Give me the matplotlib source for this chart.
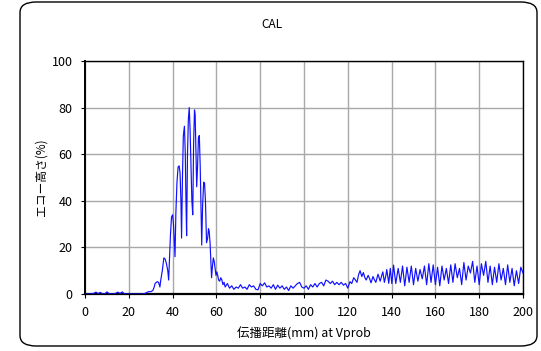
import matplotlib
matplotlib.use("Agg")
import matplotlib.pyplot as plt
from matplotlib.patches import FancyBboxPatch

plt.rcParams['font.family'] = ['Noto Sans CJK JP', 'DejaVu Sans']

# ---- data ----
x_pre = [0, 1, 2, 3, 4, 5, 6, 7, 8, 9, 10, 11, 12, 13, 14, 15, 16, 17, 18, 19,
         20, 21, 22, 23, 24, 25, 26, 27, 28]
y_pre = [0, 0, 0, 0, 0.3, 0.8, 0.2, 0.7, 0, 0, 0.9, 0.2, 0, 0, 0.3, 0.8, 0.2, 0.9, 0.1, 0,
         0, 0, 0, 0, 0, 0, 0, 0.2, 0.5]

x_peak = [28.5, 29, 30, 31, 31.6, 32, 33, 33.6, 34.2, 34.6, 35.3, 36, 36.6, 37.2, 37.8, 38.2,
          38.6, 39, 39.5, 40, 40.4, 40.8, 41.1, 41.5, 42, 42.5, 43, 43.4, 43.8, 44.1, 44.5,
          44.9, 45.4, 45.8, 46.1, 46.4, 46.8, 47.2, 47.6, 48, 48.4, 48.8, 49.2, 49.6, 50,
          50.3, 50.7, 51, 51.4, 51.8, 52.2, 52.6, 53, 53.3, 53.7, 54.2, 54.6, 55, 55.5, 56,
          56.4, 56.7, 57.1, 57.5, 57.8, 58.2, 58.6, 59, 59.4, 59.8, 60.2, 60.6, 61, 61.5,
          62, 62.5, 63, 63.5]
y_peak = [0.8, 1.0, 1.0, 1.5, 3, 4.5, 5.3, 5, 3, 6, 10, 15.5, 15, 13, 10, 6,
          15, 25, 33, 34, 30, 22, 16, 35, 48, 54.5, 55, 52, 40, 24, 50,
          68, 72, 60, 40, 25, 60, 75, 80, 70, 55, 40, 34, 65, 79,
          77, 60, 46, 55, 67, 68, 55, 35, 21, 38, 48, 47.5, 40, 22, 24,
          28, 27, 22, 14, 7, 12, 15.5, 14, 11, 8, 9.5, 8, 6, 5.5,
          7, 6, 4, 5]

x_mid = [64, 65, 66, 67, 68, 69, 70, 71, 72, 73, 74, 75, 76, 77, 78, 79, 80, 81, 82, 83,
         84, 85, 86, 87, 88, 89, 90, 91, 92, 93, 94, 95, 96, 97, 98, 99, 100, 101, 102,
         103, 104, 105, 106, 107, 108, 109, 110, 111, 112, 113, 114, 115, 116, 117, 118,
         119, 120]
y_mid = [3, 4.5, 2.5, 3.5, 2, 3, 2.5, 4, 2.5, 3, 2, 4, 3, 3.5, 2, 1.8, 4.5, 3.5, 4.8, 3,
         3.5, 2.5, 4, 2, 3.8, 2.5, 3.5, 2, 3, 1.5, 3.5, 2.5, 3.5, 4.5, 5, 3, 2.5, 3.5, 2,
         4, 3, 4.5, 3, 4.5, 5, 3.5, 6, 5.5, 4.5, 5.5, 4, 5, 4, 5, 3.8,
         4.5, 2.5]

x_rise = [121, 121.8, 122.7, 123.5, 124.2, 124.9, 125.6, 126.4, 127.1, 127.8, 128.4, 129.3,
          130, 130.6, 131.5, 132.2, 132.8, 133.8, 134.8, 135.5, 136, 136.7, 137.4, 137.8,
          138.7, 139.4, 140.1]
y_rise = [5.3, 4.5, 7, 6, 5, 8.2, 10, 7.5, 9.2, 7, 6, 8,
          6.5, 4.8, 7.5, 6, 5, 8.5, 5.5, 8, 9.5, 5, 8, 10.5,
          4.6, 11, 4.5]

x_tail = [140.9, 141.9, 143, 144, 145, 146, 147, 148, 149, 150, 151, 152, 153, 154, 155,
          156, 157, 158, 159, 160, 161, 162, 163, 164, 165, 166, 167, 168, 169, 170, 171,
          172, 173, 174, 175, 176, 177, 178, 179, 180, 181, 182, 183, 184, 185, 186, 187,
          188, 189, 190, 191, 192, 193, 194, 195, 196, 197, 198, 199, 200]
y_tail = [12.4, 4.5, 11, 5, 12, 3.5, 11.5, 5, 12, 4, 11, 5.5, 10.5, 6.5, 12,
          4, 13, 5, 12.5, 4, 11.5, 3.5, 12, 6, 11, 4.5, 12.5, 5, 13, 7, 11,
          4, 13.5, 6, 12, 9, 14, 5, 12, 4, 13, 8, 14, 5, 12, 4, 11.5,
          5, 13, 6, 11, 4, 12.5, 5, 11, 3.5, 10, 4.5, 11.5, 9]

x_vals = x_pre + x_peak + x_mid + x_rise + x_tail
y_vals = y_pre + y_peak + y_mid + y_rise + y_tail

x_ticks = [0, 20, 40, 60, 80, 100, 120, 140, 160, 180, 200]
y_ticks = [0, 20, 40, 60, 80, 100]
title = "CAL"
xlabel = "伝播距離(mm) at Vprob"
ylabel = "エコー高さ(%)"

# ---- figure ----
W, H = 541, 351
fig = plt.figure(figsize=(W / 100, H / 100), dpi=100)

ax = fig.add_axes([85 / W, 1 - 294 / H, (523 - 85) / W, (294 - 61) / H])
ax.set_facecolor("white")
ax.plot(x_vals, y_vals, color="#1010ff", linewidth=0.85, zorder=3)

ax.set_xlim(0, 200)
ax.set_ylim(0, 100)
ax.set_xticks(x_ticks)
ax.set_yticks(y_ticks)
ax.grid(True, color="#a8a8a8", linewidth=1.0, zorder=1)
ax.set_axisbelow(True)
for s in ax.spines.values():
    s.set_color("black")
    s.set_linewidth(1.0)
ax.spines['left'].set_linewidth(1.4)
ax.spines['bottom'].set_linewidth(1.6)
ax.tick_params(axis='both', direction='out', length=3, width=0.8,
               labelsize=9, colors='black', pad=6)

ax.set_xlabel(xlabel, fontsize=9, labelpad=5)
ax.set_ylabel(ylabel, fontsize=8.5, labelpad=3)
fig.text(272 / W, 1 - 24 / H, title, ha='center', va='center', fontsize=8.5)

# rounded outer frame
frame = FancyBboxPatch((20 / W, 5 / H), (537 - 20) / W, (349 - 5) / H,
                       boxstyle="round,pad=0,rounding_size=0.03",
                       transform=fig.transFigure, facecolor="none",
                       edgecolor="black", linewidth=1.0, zorder=5)
fig.add_artist(frame)

fig.savefig("out.png", dpi=100)
